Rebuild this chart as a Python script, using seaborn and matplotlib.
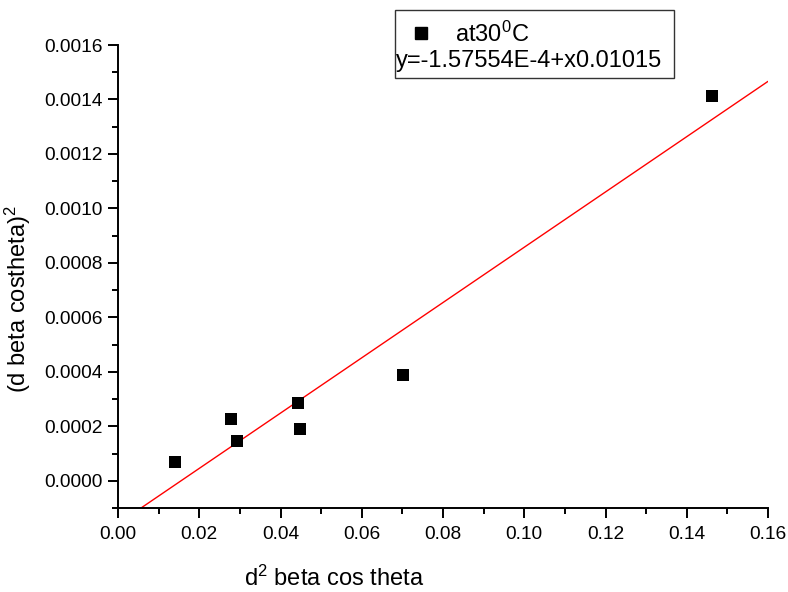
import numpy as np
import pandas as pd
import matplotlib
matplotlib.use("Agg")
import matplotlib.pyplot as plt
import seaborn as sns
from matplotlib.patches import Rectangle
from matplotlib.lines import Line2D
from matplotlib.ticker import MultipleLocator, FormatStrFormatter

# Data
x_vals = [0.01403, 0.0278, 0.0293, 0.0443, 0.0448, 0.0702, 0.1462]
y_vals = [0.0000697, 0.000228, 0.000147, 0.000286, 0.000191, 0.000389, 0.001413]
intercept = -1.57554e-4
slope = 0.01015
series_label = "at30$^0$C"
fit_label = "y=-1.57554E-4+x0.01015"
xlabel = "d$^2$ beta cos theta"
ylabel = "(d beta costheta)$^2$"

sns.set_style("white")
plt.rcParams['font.family'] = ['Liberation Sans', 'DejaVu Sans']
plt.rcParams['mathtext.fontset'] = 'custom'
plt.rcParams['mathtext.rm'] = 'Liberation Sans'
plt.rcParams['mathtext.it'] = 'Liberation Sans'
plt.rcParams['text.color'] = 'black'
plt.rcParams['axes.labelcolor'] = 'black'

df = pd.DataFrame({"x": x_vals, "y": y_vals})
fit_x = np.array([0.0, 0.16])
fit_df = pd.DataFrame({"x": fit_x, "y": intercept + slope * fit_x})

fig = plt.figure(figsize=(7.88, 5.92), dpi=100)
ax = fig.add_axes([118/788, 1-508/592, 650/788, 463/592])

sns.lineplot(data=fit_df, x="x", y="y", ax=ax, color="red", linewidth=1.0, zorder=2)
sns.scatterplot(data=df, x="x", y="y", ax=ax, marker="s", s=70, color="black",
                edgecolor="black", linewidth=0, zorder=3)

ax.set_xlim(0, 0.16)
ax.set_ylim(-0.0001, 0.0016)
ax.xaxis.set_major_locator(MultipleLocator(0.02))
ax.xaxis.set_minor_locator(MultipleLocator(0.01))
ax.yaxis.set_major_locator(MultipleLocator(0.0002))
ax.yaxis.set_minor_locator(MultipleLocator(0.0001))
ax.xaxis.set_major_formatter(FormatStrFormatter('%.2f'))
ax.yaxis.set_major_formatter(FormatStrFormatter('%.4f'))
ax.tick_params(axis='both', which='major', direction='out', length=7.2, width=1.4,
               labelsize=13.8, colors='black', left=True, bottom=True)
ax.tick_params(axis='x', which='major', pad=5.5)
ax.tick_params(axis='y', which='major', pad=4)
ax.tick_params(axis='both', which='minor', direction='out', length=4.3, width=1.4,
               left=True, bottom=True, colors='black')
for side in ['top', 'right']:
    ax.spines[side].set_visible(False)
for side in ['left', 'bottom']:
    ax.spines[side].set_color('black')
    ax.spines[side].set_linewidth(1.4)

ax.set_xlabel(xlabel, fontsize=17)
ax.set_ylabel(ylabel, fontsize=17)
ax.xaxis.set_label_coords(0.332, -0.124)
ax.yaxis.set_label_coords(-0.13, 0.451)

# Legend box (drawn in figure pixel coordinates)
W, H = 788, 592
def fx(px): return px / W
def fy(py): return 1 - py / H
fig.add_artist(Rectangle((fx(395), fy(78)), (674-395)/W, (78-10)/H,
                         transform=fig.transFigure, fill=True, facecolor='white',
                         edgecolor='#333333', linewidth=1.0))
fig.add_artist(Line2D([fx(421)], [fy(33)], marker='s', markersize=8, color='black',
                      linestyle='none', transform=fig.transFigure))
fig.text(fx(455), fy(34), series_label, fontsize=17, va='center', ha='left')
fig.text(fx(396), fy(61), fit_label, fontsize=17, va='center', ha='left')

fig.savefig("out.png", dpi=100)
